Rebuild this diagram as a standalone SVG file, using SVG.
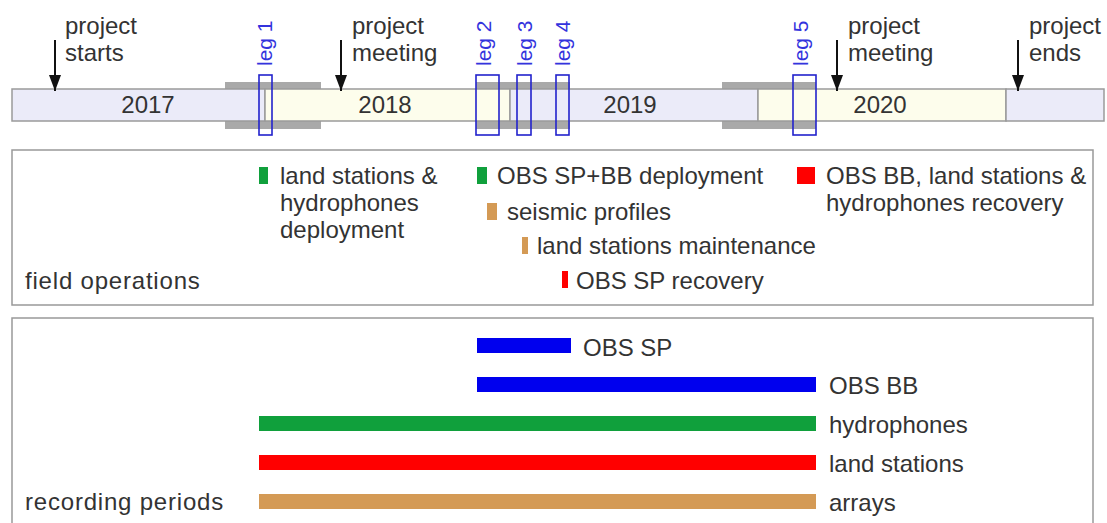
<svg xmlns="http://www.w3.org/2000/svg" width="1107" height="523" viewBox="0 0 1107 523">
<defs>
<style>
text{font-family:"Liberation Sans",Arial,sans-serif;fill:#333;}
.t{font-size:24px;}
.ts{font-size:24px;letter-spacing:0.8px;}
.yr{font-size:24px;text-anchor:middle;}
.leg{font-size:21px;fill:#3333dd;}
.legbox{fill:none;stroke:#2222cc;stroke-width:1.6;}
.band{fill:#a9a9a9;}
.segA{fill:#ebebf9;stroke:#9a9a9a;stroke-width:1.5;}
.segB{fill:#fdfdec;stroke:#9a9a9a;stroke-width:1.5;}
.arr{stroke:#111;stroke-width:2;fill:none;}
.box{fill:#fff;stroke:#999;stroke-width:1.5;}
.green{fill:#10a03c;}
.red{fill:#ff0000;}
.tan{fill:#d49a55;}
.blue{fill:#0000ee;}
</style>
<marker id="ah" viewBox="0 0 16 12" refX="16" refY="6" markerWidth="16" markerHeight="12" markerUnits="userSpaceOnUse" orient="auto">
<path d="M0,0 L16,6 L0,12 Z" fill="#111"/>
</marker>
</defs>
<rect width="1107" height="523" fill="#fff"/>

<g id="timeline">
<rect class="band" x="225" y="82" width="96" height="47"/>
<rect class="band" x="476" y="82" width="94" height="47"/>
<rect class="band" x="722" y="82" width="94" height="47"/>
<rect class="segA" x="12" y="89" width="253" height="32"/>
<rect class="segB" x="265" y="89" width="245" height="32"/>
<rect class="segA" x="510" y="89" width="248" height="32"/>
<rect class="segB" x="758" y="89" width="248" height="32"/>
<rect class="segA" x="1006" y="89" width="98" height="32"/>
<text class="yr" x="148" y="113">2017</text>
<text class="yr" x="385" y="113">2018</text>
<text class="yr" x="630" y="113">2019</text>
<text class="yr" x="880" y="113">2020</text>
</g>

<g id="legs">
<rect class="legbox" x="259" y="75" width="13" height="60"/>
<rect class="legbox" x="476" y="75" width="23" height="60"/>
<rect class="legbox" x="517" y="75" width="14" height="60"/>
<rect class="legbox" x="556" y="75" width="13" height="60"/>
<rect class="legbox" x="793" y="75" width="23" height="60"/>
<text class="leg" transform="translate(272,66) rotate(-90)">leg 1</text>
<text class="leg" transform="translate(491,66) rotate(-90)">leg 2</text>
<text class="leg" transform="translate(532,66) rotate(-90)">leg 3</text>
<text class="leg" transform="translate(570,66) rotate(-90)">leg 4</text>
<text class="leg" transform="translate(808,66) rotate(-90)">leg 5</text>
</g>

<g id="connectors">
<line class="arr" x1="55" y1="40" x2="55" y2="91" marker-end="url(#ah)"/>
<line class="arr" x1="341" y1="40" x2="341" y2="91" marker-end="url(#ah)"/>
<line class="arr" x1="837" y1="40" x2="837" y2="91" marker-end="url(#ah)"/>
<line class="arr" x1="1018" y1="40" x2="1018" y2="91" marker-end="url(#ah)"/>
</g>

<g id="milestones">
<text class="t" x="65" y="34">project</text>
<text class="t" x="65" y="61">starts</text>
<text class="t" x="352" y="34">project</text>
<text class="t" x="352" y="61">meeting</text>
<text class="t" x="848" y="34">project</text>
<text class="t" x="848" y="61">meeting</text>
<text class="t" x="1029" y="34">project</text>
<text class="t" x="1029" y="61">ends</text>
</g>

<g id="field-operations">
<rect class="box" x="12" y="150" width="1081" height="155"/>
<text class="ts" x="25" y="289">field operations</text>
<rect class="green" x="259" y="167" width="9" height="17"/>
<text class="t" x="280" y="184">land stations &amp;</text>
<text class="t" x="280" y="211">hydrophones</text>
<text class="t" x="280" y="238">deployment</text>
<rect class="green" x="477" y="167" width="10" height="17"/>
<text class="t" x="497" y="184">OBS SP+BB deployment</text>
<rect class="red" x="797" y="167" width="18" height="17"/>
<text class="t" x="826" y="184">OBS BB, land stations &amp;</text>
<text class="t" x="826" y="211">hydrophones recovery</text>
<rect class="tan" x="487" y="203" width="10" height="17"/>
<text class="t" x="507" y="220">seismic profiles</text>
<rect class="tan" x="522" y="237" width="6" height="17"/>
<text class="t" x="537" y="254">land stations maintenance</text>
<rect class="red" x="562" y="271" width="6" height="17"/>
<text class="t" x="576" y="289">OBS SP recovery</text>
</g>

<g id="recording-periods">
<rect class="box" x="12" y="318" width="1081" height="215"/>
<text class="ts" x="25" y="510">recording periods</text>
<rect class="blue" x="477" y="338" width="94" height="15"/>
<text class="t" x="583" y="356">OBS SP</text>
<rect class="blue" x="477" y="377" width="339" height="15"/>
<text class="t" x="829" y="394">OBS BB</text>
<rect class="green" x="259" y="416" width="557" height="15"/>
<text class="t" x="829" y="433">hydrophones</text>
<rect class="red" x="259" y="455" width="557" height="15"/>
<text class="t" x="829" y="472">land stations</text>
<rect class="tan" x="259" y="494" width="557" height="15"/>
<text class="t" x="829" y="511">arrays</text>
</g>
</svg>
